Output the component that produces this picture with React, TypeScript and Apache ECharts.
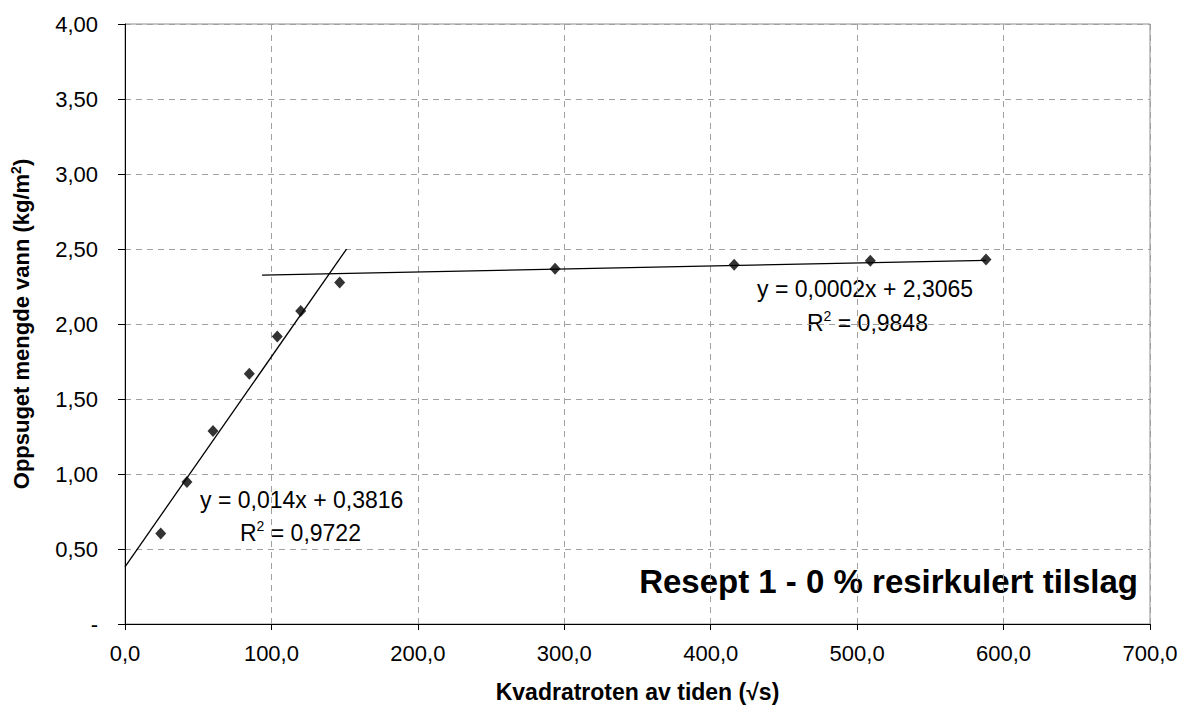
import React, { useEffect, useRef } from "react";
import * as echarts from "echarts";

const pointsX = [24.4, 42.3, 60.1, 84.9, 104.0, 120.0, 146.6, 293.7, 416.0, 509.0, 588.0];
const pointsY = [0.604, 0.947, 1.287, 1.669, 1.917, 2.086, 2.277, 2.368, 2.395, 2.421, 2.43];

const trend1X = [0, 151.3];
const trend1Slope = 0.014;
const trend1Intercept = 0.3816;
const trend2X = [93.6, 588];
const trend2Slope = 0.0002;
const trend2Intercept = 2.3065;

const eq1 = "y = 0,014x + 0,3816";
const r1 = "0,9722";
const eq2 = "y = 0,0002x + 2,3065";
const r2 = "0,9848";
const title = "Resept 1 - 0 % resirkulert tilslag";
const xName = "Kvadratroten av tiden (√s)";

const FONT = "Liberation Sans, Arial, sans-serif";

export default function App() {
  const ref = useRef<HTMLDivElement>(null);
  useEffect(() => {
    if (!ref.current) return;
    const chart = echarts.init(ref.current, null, { renderer: "svg" });
    const scatter = pointsX.map((x, i) => [x, pointsY[i]]);
    const t1 = trend1X.map((x) => [x, trend1Slope * x + trend1Intercept]);
    const t2 = trend2X.map((x) => [x, trend2Slope * x + trend2Intercept]);
    const supRich = {
      sup: { fontFamily: FONT, fontSize: 14, verticalAlign: "top", lineHeight: 14, fill: "#000" },
    };
    chart.setOption({
      animation: false,
      backgroundColor: "#fff",
      grid: {
        left: 125,
        top: 24,
        width: 1025,
        height: 600,
        show: true,
        borderColor: "#8c8c8c",
        borderWidth: 1,
        backgroundColor: "transparent",
      },
      xAxis: {
        type: "value",
        min: 0,
        max: 700,
        interval: 100,
        name: xName,
        nameLocation: "middle",
        nameGap: 56,
        nameTextStyle: { fontFamily: FONT, fontSize: 23, fontWeight: "bold", color: "#000" },
        axisLine: { show: true, onZero: false, lineStyle: { color: "#000", width: 1 } },
        axisTick: { show: true, inside: false, length: 6, lineStyle: { color: "#000" } },
        axisLabel: {
          margin: 18,
          fontFamily: FONT,
          fontSize: 22,
          color: "#000",
          formatter: (v: number) => v.toFixed(1).replace(".", ","),
        },
        splitLine: { show: true, lineStyle: { color: "#a0a0a0", type: [6, 5], width: 1 } },
      },
      yAxis: {
        type: "value",
        min: 0,
        max: 4,
        interval: 0.5,
        name: "Oppsuget mengde vann (kg/m{sup|2})",
        nameLocation: "middle",
        nameGap: 92,
        nameRotate: 90,
        nameTextStyle: {
          fontFamily: FONT,
          fontSize: 22,
          fontWeight: "bold",
          color: "#000",
          lineHeight: 24,
          rich: {
            sup: { fontFamily: FONT, fontSize: 14, fontWeight: "bold", color: "#000", verticalAlign: "top", lineHeight: 14 },
          },
        },
        axisLine: { show: true, onZero: false, lineStyle: { color: "#000", width: 1 } },
        axisTick: { show: true, inside: false, length: 7, lineStyle: { color: "#000" } },
        axisLabel: {
          margin: 27,
          fontFamily: FONT,
          fontSize: 22,
          color: "#000",
          formatter: (v: number) => (v === 0 ? "-" : v.toFixed(2).replace(".", ",")),
        },
        splitLine: { show: true, lineStyle: { color: "#a0a0a0", type: [6, 5], width: 1 } },
      },
      series: [
        {
          type: "line",
          data: t1,
          showSymbol: false,
          symbol: "none",
          lineStyle: { color: "#000", width: 1.3 },
          z: 3,
        },
        {
          type: "line",
          data: t2,
          showSymbol: false,
          symbol: "none",
          lineStyle: { color: "#000", width: 1.3 },
          z: 3,
        },
        {
          type: "scatter",
          data: scatter,
          symbol: "diamond",
          symbolSize: [11, 12],
          itemStyle: { color: "#000" },
          z: 4,
        },
      ],
      graphic: [
        {
          type: "text",
          left: 200,
          top: 488,
          style: { text: eq1, fontFamily: FONT, fontSize: 23, fill: "#000" },
        },
        {
          type: "text",
          left: 240,
          top: 519,
          style: {
            text: "R{sup|2} = " + r1,
            fontFamily: FONT,
            fontSize: 23,
            lineHeight: 28,
            fill: "#000",
            rich: supRich,
          },
        },
        {
          type: "text",
          left: 757,
          top: 277,
          style: { text: eq2, fontFamily: FONT, fontSize: 23, fill: "#000" },
        },
        {
          type: "text",
          left: 807,
          top: 309,
          style: {
            text: "R{sup|2} = " + r2,
            fontFamily: FONT,
            fontSize: 23,
            lineHeight: 28,
            fill: "#000",
            rich: supRich,
          },
        },
        {
          type: "text",
          right: 45,
          top: 565,
          style: { text: title, fontFamily: FONT, fontSize: 33, fontWeight: "bold", fill: "#000" },
        },
      ],
    });
    return () => chart.dispose();
  }, []);
  return (
    <div
      ref={ref}
      style={{ position: "absolute", left: 0, top: 0, width: 1183, height: 710, background: "#fff" }}
    />
  );
}
